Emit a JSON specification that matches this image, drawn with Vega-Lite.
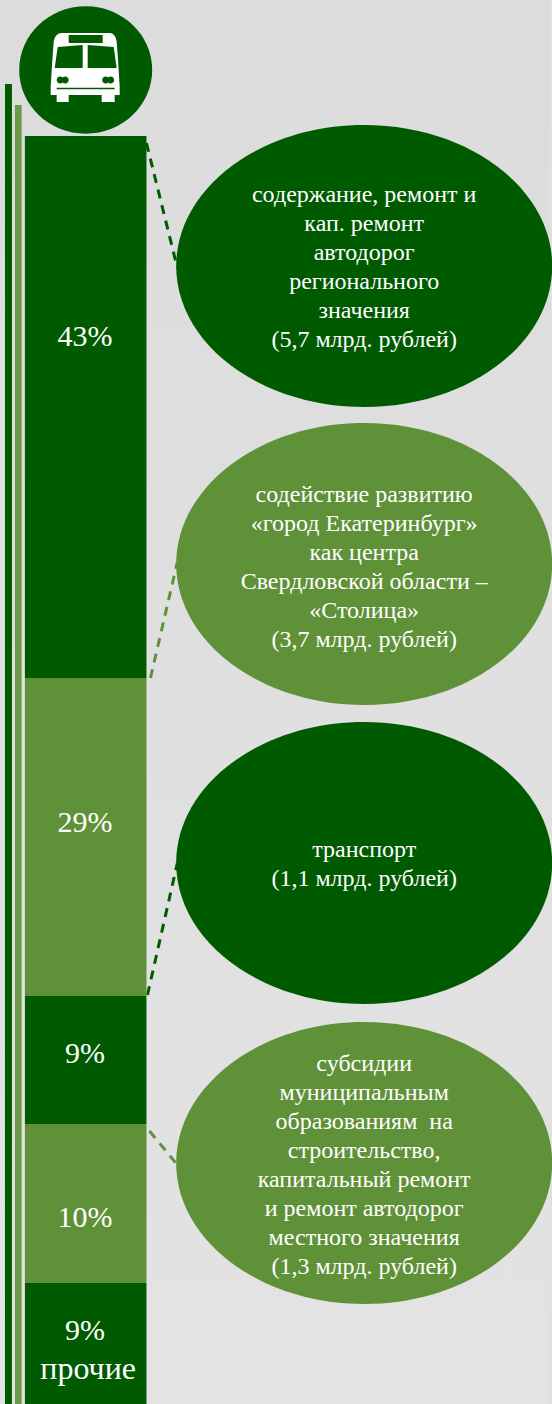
{"$schema":"https://vega.github.io/schema/vega-lite/v6.json","width":552,"height":1404,"padding":0,"autosize":{"type":"fit","contains":"padding"},"background":"#e0e0e0","config":{"view":{"stroke":null},"axis":{"disable":true},"font":"Liberation Serif"},
"datasets":{
"frame":[{"x0":0,"x1":552,"y0":0,"y1":1404}],
"rails":[{"group":"A","x0":5,"x1":12,"y0":84,"y1":1404},{"group":"C","x0":15,"x1":21.7,"y0":105,"y1":1404}],
"segments":[{"group":"A","label":"43%","x0":25,"x1":147,"y0":136,"y1":678,"ly":337},{"group":"B","label":"29%","x0":25,"x1":147,"y0":678,"y1":996,"ly":823},{"group":"A","label":"9%","x0":25,"x1":147,"y0":996,"y1":1124,"ly":1054},{"group":"B","label":"10%","x0":25,"x1":147,"y0":1124,"y1":1283,"ly":1218},{"group":"A","label":"9%","x0":25,"x1":147,"y0":1283,"y1":1404,"ly":1331}],
"extra":[{"cx":88.5,"ty":1369,"label":"прочие"}],
"bubbles":[{"group":"A","cx":365.5,"cy":266,"ty":195,"label":"содержание, ремонт и\nкап. ремонт\nавтодорог\nрегионального\nзначения\n(5,7 млрд. рублей)"},{"group":"B","cx":365.5,"cy":564,"ty":495,"label":"содействие развитию\n«город Екатеринбург»\nкак центра\nСвердловской области –\n«Столица»\n(3,7 млрд. рублей)"},{"group":"A","cx":365.5,"cy":863,"ty":850,"label":"транспорт\n(1,1 млрд. рублей)"},{"group":"B","cx":365.5,"cy":1163,"ty":1064,"label":"субсидии\nмуниципальным\nобразованиям\u00a0 на\nстроительство,\nкапитальный ремонт\nи ремонт автодорог\nместного значения\n(1,3 млрд. рублей)"}],
"leaders":[{"group":"A","x0":147,"y0":143,"x1":178,"y1":268},{"group":"B","x0":151,"y0":678,"x1":178,"y1":562},{"group":"A","x0":148,"y0":995,"x1":178,"y1":863},{"group":"B","x0":150,"y0":1131,"x1":179,"y1":1166}],
"badge":[{"cx":86,"cy":70,"bx":85.5,"by":67.5}]
},
"layer":[
{"data":{"name":"frame"},"mark":{"type":"rect","color":{"gradient":"linear","x1":0,"y1":0,"x2":0,"y2":1,"stops":[{"offset":0,"color":"#dcdcdc"},{"offset":1,"color":"#e3e3e3"}]}},"encoding":{"x":{"field":"x0","type":"quantitative","scale":{"domain":[0,552],"nice":false,"zero":false}},"x2":{"field":"x1"},"y":{"field":"y0","type":"quantitative","scale":{"domain":[1404,0],"nice":false,"zero":false}},"y2":{"field":"y1"}}},
{"data":{"name":"rails"},"mark":{"type":"rect"},"encoding":{"x":{"field":"x0","type":"quantitative"},"x2":{"field":"x1"},"y":{"field":"y0","type":"quantitative"},"y2":{"field":"y1"},"color":{"field":"group","type":"nominal","legend":null,"scale":{"domain":["A","B","C"],"range":["#005a00","#5f9138","#6a9a48"]}}}},
{"data":{"name":"leaders"},"mark":{"type":"rule","strokeWidth":3,"strokeDash":[9,7]},"encoding":{"x":{"field":"x0","type":"quantitative"},"x2":{"field":"x1"},"y":{"field":"y0","type":"quantitative"},"y2":{"field":"y1"},"color":{"field":"group","type":"nominal","legend":null}}},
{"data":{"name":"segments"},"mark":{"type":"rect"},"encoding":{"x":{"field":"x0","type":"quantitative"},"x2":{"field":"x1"},"y":{"field":"y0","type":"quantitative"},"y2":{"field":"y1"},"color":{"field":"group","type":"nominal","legend":null}}},
{"data":{"name":"segments"},"mark":{"type":"text","color":"#ffffff","fontSize":30,"align":"center","baseline":"middle"},"encoding":{"x":{"value":85},"y":{"field":"ly","type":"quantitative"},"text":{"field":"label"}}},
{"data":{"name":"extra"},"mark":{"type":"text","color":"#ffffff","fontSize":32,"align":"center","baseline":"middle"},"encoding":{"x":{"field":"cx","type":"quantitative"},"y":{"field":"ty","type":"quantitative"},"text":{"field":"label"}}},
{"data":{"name":"bubbles"},"mark":{"type":"point","filled":true,"opacity":1,"size":4,"shape":"M-188,0A188,141 0 1 1 188,0A188,141 0 1 1 -188,0Z"},"encoding":{"x":{"field":"cx","type":"quantitative"},"y":{"field":"cy","type":"quantitative"},"color":{"field":"group","type":"nominal","legend":null}}},
{"data":{"name":"bubbles"},"mark":{"type":"text","color":"#ffffff","fontSize":24,"lineHeight":29,"lineBreak":"\n","align":"center","baseline":"middle"},"encoding":{"x":{"field":"cx","type":"quantitative"},"y":{"field":"ty","type":"quantitative"},"text":{"field":"label"}}},
{"data":{"name":"badge"},"mark":{"type":"point","filled":true,"opacity":1,"size":4,"color":"#005a00","shape":"M-66.5,0A66.5,63.7 0 1 1 66.5,0A66.5,63.7 0 1 1 -66.5,0Z"},"encoding":{"x":{"field":"cx","type":"quantitative"},"y":{"field":"cy","type":"quantitative"}}},
{"data":{"name":"badge"},"mark":{"type":"point","filled":true,"opacity":1,"size":4,"color":"#ffffff","shape":"M-23.5,-34.5L24.5,-34.5Q30,-34.5 31.5,-26L33,-5L34.5,19.5L34.5,27.5L29.5,27.5L29.5,34.5L16.5,34.5L16.5,27.5L-16.5,27.5L-16.5,34.5L-28.5,34.5L-28.5,27.5L-34.5,27.5L-34.5,19.5L-33,-5L-31.5,-26Q-30,-34.5 -23.5,-34.5Z"},"encoding":{"x":{"field":"bx","type":"quantitative"},"y":{"field":"by","type":"quantitative"}}},
{"data":{"name":"badge"},"mark":{"type":"point","filled":true,"opacity":1,"size":4,"color":"#005a00","shape":"M-16.5,-32.5L17.5,-32.5L17.5,-24.5L-16.5,-24.5ZM-27.5,-20.5L-2.5,-22.5L-2.5,0.5L-30.5,0.5ZM2.5,-22.5L28.5,-20.5L31.5,0.5L2.5,0.5ZM-28.5,20.2L29.5,20.2L29.5,21.8L-28.5,21.8ZM-28.5,12.5A3.5,3.5 0 1 1 -21.5,12.5A3.5,3.5 0 1 1 -28.5,12.5ZM-23.5,12.5A3.5,3.5 0 1 1 -16.5,12.5A3.5,3.5 0 1 1 -23.5,12.5ZM17,12.5A3.5,3.5 0 1 1 24,12.5A3.5,3.5 0 1 1 17,12.5ZM22,12.5A3.5,3.5 0 1 1 29,12.5A3.5,3.5 0 1 1 22,12.5Z"},"encoding":{"x":{"field":"bx","type":"quantitative"},"y":{"field":"by","type":"quantitative"}}}
]}
